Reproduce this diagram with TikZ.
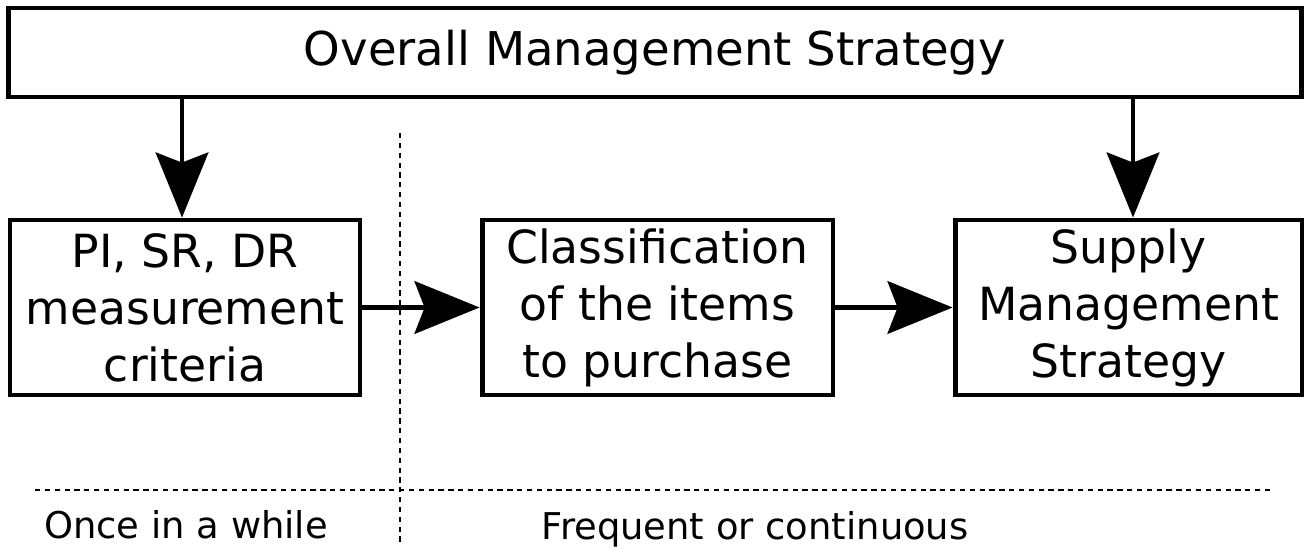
\documentclass[tikz,border=0pt]{standalone}
\usepackage{fontspec}
\setmainfont{DejaVu Sans}
\usepackage{tikz}
\usetikzlibrary{arrows.meta, positioning, calc}
\tikzset{
  stratbox/.style={
    rectangle, draw=black, line width=2.8pt, fill=white,
    inner sep=0pt, align=center, font=\fontsize{26}{32.5}\selectfont
  },
  arrowflow/.style={-{Stealth[length=1.3cm, width=1.05cm, inset=0.2cm]}, line width=2.8pt},
  splitline/.style={dashed, dash pattern=on 3pt off 2.6pt, line width=0.7pt},
  periodtext/.style={font=\fontsize{21}{25}\selectfont, inner sep=0pt}
}

\begin{document}
\begin{tikzpicture}[x=0.02cm, y=0.02cm]

\useasboundingbox (0,0) rectangle (1310,549);

% -------- top strategy box --------
\node[stratbox, minimum width=25.88cm, minimum height=1.78cm, font=\fontsize{26.5}{32.5}\selectfont] (top) at (655,496.5) {Overall Management Strategy};

% -------- row of three boxes --------
\node[stratbox, minimum width=7cm, minimum height=3.5cm] (crit) at (185,241.5) {PI, SR, DR\\measurement\\criteria};
\node[stratbox, minimum width=7.02cm, minimum height=3.5cm] (cls) at (657.5,241.5) {Classification\\of the items\\to purchase};
\node[stratbox, minimum width=6.94cm, minimum height=3.5cm] (sms) at (1128.5,241.5) {Supply\\Management\\Strategy};

\draw[arrowflow] (182,0 |- top.south) -- (182,0 |- crit.north);
\draw[arrowflow] (1133,0 |- top.south) -- (1133,0 |- sms.north);

\foreach \a/\b in {crit/cls,cls/sms}
  \draw[arrowflow] (\a.east) -- (\b.west);

% -------- time split --------
\coordinate (hl) at (35,59);
\coordinate (hr) at (1272,59);
\coordinate (vt) at (400,416);
\coordinate (vb) at (400,4);
\draw[splitline] (hl) -- (hr);
\draw[splitline] (vt) -- (vb);

\node[periodtext] (once) at (186,24) {Once in a while};
\node[periodtext] (freq) at (755,20) {Frequent or continuous};

\end{tikzpicture}
\end{document}
